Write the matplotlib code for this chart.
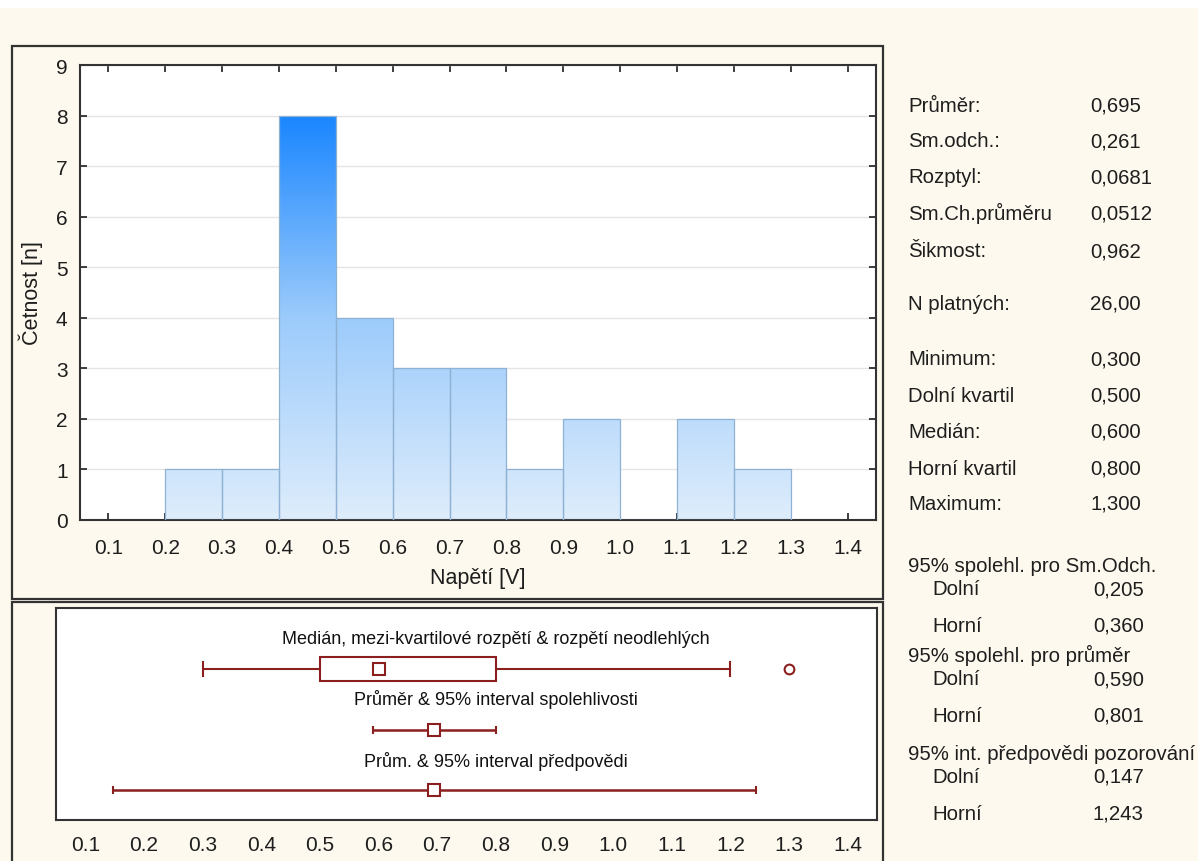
import numpy as np
import matplotlib.pyplot as plt
from matplotlib.patches import Rectangle
from matplotlib.colors import LinearSegmentedColormap

plt.rcParams['font.family'] = ['Liberation Sans', 'DejaVu Sans']

### DATA
### ------------------
bin_edges = [0.2, 0.3, 0.4, 0.5, 0.6, 0.7, 0.8, 0.9, 1.0, 1.1, 1.2, 1.3]
counts = [1, 1, 8, 4, 3, 3, 1, 2, 0, 2, 1]
x_ticks = [0.1, 0.2, 0.3, 0.4, 0.5, 0.6, 0.7, 0.8, 0.9, 1.0, 1.1, 1.2, 1.3, 1.4]
y_ticks = [0, 1, 2, 3, 4, 5, 6, 7, 8, 9]

# box plot summary
minimum, q1, median, q3, maximum = 0.300, 0.500, 0.600, 0.800, 1.300
whisker_hi = 1.2
outliers = [1.3]
mean = 0.695
ci_mean = (0.590, 0.801)
pred_int = (0.147, 1.243)

box_titles = ['Medián, mezi-kvartilové rozpětí & rozpětí neodlehlých',
              'Průměr & 95% interval spolehlivosti',
              'Prům. & 95% interval předpovědi']

stat_labels = ['Průměr:', 'Sm.odch.:', 'Rozptyl:', 'Sm.Ch.průměru', 'Šikmost:',
               'N platných:', 'Minimum:', 'Dolní kvartil', 'Medián:', 'Horní kvartil', 'Maximum:']
stat_values = ['0,695', '0,261', '0,0681', '0,0512', '0,962',
               '26,00', '0,300', '0,500', '0,600', '0,800', '1,300']
ci_headers = ['95% spolehl. pro Sm.Odch.', '95% spolehl. pro průměr', '95% int. předpovědi pozorování']
ci_values = [('0,205', '0,360'), ('0,590', '0,801'), ('0,147', '1,243')]

### FIGURE
### ------------------
W, H = 1198, 862
BG = '#fdf9ee'
RED = '#8b1e1e'
TXT = '#1e1e1e'
fig = plt.figure(figsize=(W / 100, H / 100), dpi=100, facecolor=BG)

def fx(px):
    return px / W

def fy(py):
    return 1 - py / H

# white strip on top and panel frames
fig.patches.append(Rectangle((0, fy(9)), 1, 9 / H, transform=fig.transFigure,
                             facecolor='white', edgecolor='none'))
fig.patches.append(Rectangle((fx(12), fy(600)), fx(871), 553 / H, transform=fig.transFigure,
                             facecolor='none', edgecolor='#333333', lw=1.6))
fig.patches.append(Rectangle((fx(12), fy(880)), fx(871), 277 / H, transform=fig.transFigure,
                             facecolor='none', edgecolor='#333333', lw=1.6))

### HISTOGRAM
### ------------------
ax = fig.add_axes([fx(80), fy(521), fx(796), 455 / H])
ax.set_facecolor('white')
ax.set_axisbelow(True)
ax.yaxis.grid(True, color='#e4e4e4', lw=1)

widths = np.diff(bin_edges)
bars = ax.bar(bin_edges[:-1], counts, width=widths, align='edge',
              facecolor='none', edgecolor='#8fb2d4', lw=0.9, zorder=3)

cmap = LinearSegmentedColormap.from_list('blues', ['#deedfc', '#9ccbfb', '#1a86ff'])
grad = np.linspace(0, 1, 256).reshape(-1, 1)
for bar in bars:
    if bar.get_height() == 0:
        continue
    im = ax.imshow(grad, cmap=cmap, origin='lower', aspect='auto',
                   extent=[0.05, 1.45, 0, 8], zorder=2, interpolation='bilinear')
    im.set_clip_path(bar)
ax.set_xlim(0.05, 1.45)
ax.set_ylim(0, 9)

ax.set_xticks(x_ticks)
ax.set_xticklabels(['%.1f' % t for t in x_ticks])
ax.set_yticks(y_ticks)
ax.tick_params(direction='in', top=True, right=True, length=5, width=1.2,
               labelsize=15, colors=TXT)
ax.tick_params(axis='x', pad=13)
ax.tick_params(axis='y', pad=9)
for s in ax.spines.values():
    s.set_color('#333333')
    s.set_linewidth(1.5)
ax.set_xlabel('Napětí [V]', fontsize=15.5, labelpad=7, color=TXT)
ax.set_ylabel('Četnost [n]', fontsize=15.5, labelpad=9, color=TXT)

### BOX PLOT
### ------------------
bx = fig.add_axes([fx(56), fy(821), fx(821), 212 / H])
bx.set_facecolor('white')
bx.set_xlim(0.05, 1.45)
bx.set_ylim(0, 1)
bx.set_xticks(x_ticks)
bx.set_xticklabels(['%.1f' % t for t in x_ticks])
bx.set_yticks([])
bx.tick_params(axis='x', length=0, pad=11, labelsize=15, colors=TXT)
for s in bx.spines.values():
    s.set_color('#333333')
    s.set_linewidth(1.5)

rows = [0.712, 0.425, 0.142]
title_y = [0.854, 0.571, 0.283]
for t, ty in zip(box_titles, title_y):
    bx.text(0.8, ty, t, ha='center', va='center', fontsize=13, color='#111111')

# median, IQR and non-outlier range
y0 = rows[0]
bh = 0.057
bx.plot([minimum, q1], [y0, y0], color=RED, lw=1.5)
bx.plot([q3, whisker_hi], [y0, y0], color=RED, lw=1.5)
bx.plot([minimum, minimum], [y0 - 0.032, y0 + 0.032], color=RED, lw=1.5)
bx.plot([whisker_hi, whisker_hi], [y0 - 0.032, y0 + 0.032], color=RED, lw=1.5)
bx.add_patch(Rectangle((q1, y0 - bh), q3 - q1, 2 * bh, facecolor='none', edgecolor=RED, lw=1.5))
bx.plot([median], [y0], marker='s', ms=8, mfc='none', mec=RED, mew=1.5)
bx.plot(outliers, [y0] * len(outliers), marker='o', ms=7, mfc='none', mec=RED, mew=1.5, ls='none')

# mean with confidence and prediction intervals
for (lo, hi), yy in [(ci_mean, rows[1]), (pred_int, rows[2])]:
    bx.errorbar([mean], [yy], xerr=[[mean - lo], [hi - mean]], color=RED, lw=1.8,
                capsize=3, capthick=1.8, marker='s', ms=8, mfc='white', mec=RED, mew=1.5)

### STATS TEXT
### ------------------
stat_baselines = [112, 147, 183, 220, 257, 310, 365, 402, 438, 475, 510]
for lab, val, py in zip(stat_labels, stat_values, stat_baselines):
    fig.text(fx(908), fy(py), lab, ha='left', va='baseline', fontsize=14.7, color=TXT)
    fig.text(fx(1090), fy(py), val, ha='left', va='baseline', fontsize=14.7, color=TXT)

header_baselines = [572, 662, 760]
for hdr, (lo, hi), py in zip(ci_headers, ci_values, header_baselines):
    fig.text(fx(908), fy(py), hdr, ha='left', va='baseline', fontsize=14.7, color=TXT)
    fig.text(fx(932), fy(py + 23), 'Dolní', ha='left', va='baseline', fontsize=14.7, color=TXT)
    fig.text(fx(1093), fy(py + 23), lo, ha='left', va='baseline', fontsize=14.7, color=TXT)
    fig.text(fx(932), fy(py + 60), 'Horní', ha='left', va='baseline', fontsize=14.7, color=TXT)
    fig.text(fx(1093), fy(py + 60), hi, ha='left', va='baseline', fontsize=14.7, color=TXT)

fig.savefig('out.png', dpi=100, facecolor=BG)
